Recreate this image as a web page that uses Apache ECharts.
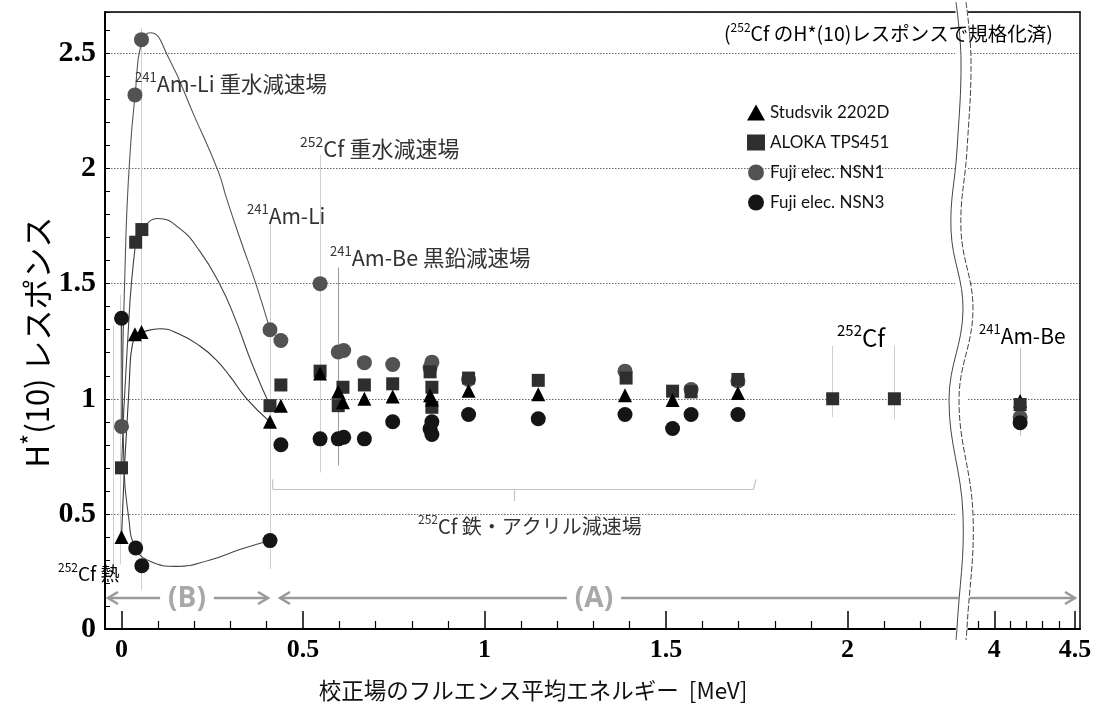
<!DOCTYPE html>
<html><head><meta charset="utf-8">
<script src="https://cdn.jsdelivr.net/npm/echarts@6/dist/echarts.min.js"></script>
<style>html,body{margin:0;padding:0;background:#fff}#c{width:1095px;height:708px}</style>
</head><body><div id="c"></div>
<script>
// Relative H*(10) response (normalised to the 252Cf field) vs. mean fluence energy [MeV]
const studsvik = [[0,0.40],[0.037,1.28],[0.055,1.29],[0.409,0.90],[0.439,0.97],[0.547,1.11],[0.597,1.03],[0.61,0.985],[0.669,1.00],[0.747,1.01],[0.85,1.015],[0.855,0.997],[0.956,1.035],[1.148,1.02],[1.387,1.015],[1.518,0.995],[1.698,1.025]];
const aloka = [[0,0.70],[0.039,1.68],[0.056,1.735],[0.409,0.97],[0.439,1.06],[0.547,1.12],[0.597,0.97],[0.61,1.05],[0.669,1.06],[0.747,1.065],[0.85,1.117],[0.855,1.05],[0.855,0.963],[0.956,1.09],[1.148,1.08],[1.39,1.09],[1.518,1.033],[1.569,1.03],[1.698,1.084],[1.959,1.0],[2.129,1.0]];
const nsn1 = [[0,0.88],[0.037,2.32],[0.055,2.56],[0.409,1.30],[0.439,1.253],[0.547,1.50],[0.597,1.203],[0.612,1.21],[0.669,1.157],[0.747,1.149],[0.85,1.135],[0.855,1.159],[0.956,1.084],[1.387,1.12],[1.569,1.04],[1.698,1.077]];
const nsn3 = [[0,1.35],[0.039,0.352],[0.056,0.275],[0.409,0.384],[0.439,0.80],[0.547,0.826],[0.597,0.826],[0.612,0.833],[0.669,0.826],[0.747,0.90],[0.85,0.87],[0.855,0.90],[0.855,0.845],[0.956,0.932],[1.148,0.913],[1.387,0.932],[1.518,0.871],[1.569,0.932],[1.698,0.932]];

// 241Am-Be field (right-hand segment of the broken axis)
const amBeStudsvik = [[4.16,0.99]];
const amBeAloka = [[4.16,0.975]];
const amBeNsn1 = [[4.16,0.92]];
const amBeNsn3 = [[4.16,0.896]];

// Hand-drawn trend curves through the low-energy (B) region
const fitNsn1 = [[0,0.88],[0.012,1.7],[0.025,2.1],[0.037,2.31],[0.055,2.55],[0.08,2.59],[0.13,2.48],[0.2,2.23],[0.266,1.99],[0.29,1.867],[0.33,1.68],[0.37,1.5],[0.409,1.30]];
const fitAloka = [[0,0.70],[0.015,1.2],[0.039,1.678],[0.056,1.733],[0.1,1.783],[0.16,1.74],[0.216,1.64],[0.27,1.5],[0.31,1.36],[0.36,1.15],[0.409,0.97]];
const fitStudsvik = [[0,0.40],[0.019,1.0],[0.037,1.28],[0.056,1.29],[0.106,1.304],[0.16,1.28],[0.216,1.229],[0.26,1.17],[0.30,1.095],[0.345,1.0],[0.409,0.90]];
const fitNsn3 = [[0,1.35],[0.006,0.75],[0.02,0.48],[0.039,0.352],[0.079,0.294],[0.152,0.272],[0.244,0.30],[0.326,0.345],[0.409,0.384]];

// Leader lines from field labels down to their points
const guidesLeft = [
  [[-0.023,1.32],[-0.023,0.25]], [[-0.004,1.45],[-0.004,0.28]],
  [[0.055,2.61],[0.055,0.17]], [[0.409,1.78],[0.409,0.26]],
  [[0.547,2.06],[0.547,0.68]], [[1.959,1.23],[1.959,0.92]], [[2.129,1.23],[2.129,0.91]]
];
const guidesDark = [[[0.597,1.57],[0.597,0.71]]];
const guidesRight = [[[4.16,1.22],[4.16,0.84]]];
// Bracket under the 252Cf iron/acrylic moderated fields
const bracket = [
  [[0.416,0.65],[0.417,0.607]], [[0.417,0.607],[1.741,0.607]],
  [[1.741,0.607],[1.748,0.65]], [[1.082,0.607],[1.082,0.556]]
];

// Tick positions
const xMajorA = [0,0.5,1,1.5,2];
const xMinorA = [0.1,0.2,0.3,0.4,0.6,0.7,0.8,0.9,1.1,1.2,1.3,1.4,1.6,1.7,1.8,1.9,2.1,2.2];
const xMajorB = [4,4.5];
const xMinorB = [3.9,4.1,4.2,4.3,4.4];

const jp = '"Noto Sans CJK JP", "Noto Sans", sans-serif';
const xLabelStyle = {fontFamily:'Liberation Serif', fontWeight:'bold', fontSize:26, color:'#000'};
const yLabelStyle = {fontFamily:'Liberation Serif', fontWeight:'bold', fontSize:30, color:'#000'};

const yLabelFmt = v => (Math.abs(v*2 - Math.round(v*2)) < 1e-6) ? String(+v.toFixed(1)) : '';

function xAxes(grid, min, max, major, minor) {
  return [
    {gridIndex:grid, type:'value', min, max, position:'bottom',
     axisLine:{show:true, onZero:false, lineStyle:{color:'#000', width:2}},
     axisTick:{show:true, inside:true, length:18, customValues:major, lineStyle:{color:'#000', width:1.5}},
     axisLabel:Object.assign({show:true, margin:8, customValues:major}, xLabelStyle),
     splitLine:{show:false}},
    {gridIndex:grid, type:'value', min, max, position:'bottom',
     axisLine:{show:false, onZero:false},
     axisTick:{show:true, inside:true, length:8, customValues:minor, lineStyle:{color:'#000', width:1.2}},
     axisLabel:{show:false}, splitLine:{show:false}},
    {gridIndex:grid, type:'value', min, max, position:'top',
     axisLine:{show:true, onZero:false, lineStyle:{color:'#000', width:1.5}},
     axisTick:{show:false}, axisLabel:{show:false}, splitLine:{show:false}}
  ];
}

const yMin = 0, yMax = 2.68;
const dotted = {show:true, lineStyle:{type:[1.5,1.5], color:'#666', width:1}};

function label(x, y, sup, txt, size, color) {
  const c = color || '#333';
  const r = {
    s:{fontSize:Math.round(size*0.62), lineHeight:Math.round(size*0.7), verticalAlign:'top', fontFamily:jp, fill:c},
    n:{fontSize:size, lineHeight:size + 6, fontFamily:jp, fill:c}
  };
  return {type:'text', x, y, z:100,
    style:{text:(sup ? '{s|' + sup + '}' : '') + '{n|' + txt + '}', rich:r, align:'left', verticalAlign:'middle'}};
}

// Axis break: two wavy lines with white gap
const breakMid = [[961,2],[966,60],[962,150],[956,230],[968,310],[954,400],[968,515],[962,628],[961,640]];
const breakL = breakMid.map(p => [p[0]-5, p[1]]);
const breakR = breakMid.map(p => [p[0]+5, p[1]]);

function arrowHead(x, y, dir) {
  return {type:'polyline', z:90, shape:{points:[[x - dir*10, y-6],[x, y],[x - dir*10, y+6]]},
    style:{stroke:'#9a9a9a', lineWidth:2.5, fill:null}};
}

const solid = c => ({color:c, opacity:1});

const option = {
  animation:false,
  backgroundColor:'#fff',
  grid:[
    {left:105, right:140, top:12, bottom:79},
    {left:968, right:15, top:12, bottom:79}
  ],
  xAxis:[].concat(xAxes(0, -0.0455, 2.296, xMajorA, xMinorA), xAxes(1, 3.837, 4.531, xMajorB, xMinorB)),
  yAxis:[
    {gridIndex:0, type:'value', min:yMin, max:yMax, interval:0.5,
     axisLine:{show:true, onZero:false, lineStyle:{color:'#000', width:2}},
     axisTick:{show:true, inside:true, length:5, lineStyle:{color:'#000'}},
     minorTick:{show:true, splitNumber:5, length:5, lineStyle:{color:'#000'}},
     axisLabel:Object.assign({margin:9, formatter:yLabelFmt}, yLabelStyle),
     splitLine:dotted},
    {gridIndex:1, type:'value', min:yMin, max:yMax, interval:0.5,
     axisLine:{show:false, onZero:false}, axisTick:{show:false}, axisLabel:{show:false}, splitLine:dotted},
    {gridIndex:1, type:'value', min:yMin, max:yMax, interval:0.5, position:'right',
     axisLine:{show:true, onZero:false, lineStyle:{color:'#000', width:1.5}}, axisTick:{show:false}, axisLabel:{show:false}, splitLine:{show:false}}
  ],
  legend:{
    orient:'vertical', left:742, top:99, itemWidth:18, itemHeight:16, itemGap:13,
    textStyle:{fontSize:17, fontFamily:'Lato, sans-serif', color:'#111'},
    data:['Studsvik 2202D','ALOKA TPS451','Fuji elec. NSN1','Fuji elec. NSN3']
  },
  series:[
    {type:'lines', coordinateSystem:'cartesian2d', xAxisIndex:0, yAxisIndex:0, silent:true, z:1,
     lineStyle:{color:'#cfcfcf', width:1, opacity:1}, data:guidesLeft.map(c => ({coords:c}))},
    {type:'lines', coordinateSystem:'cartesian2d', xAxisIndex:0, yAxisIndex:0, silent:true, z:1,
     lineStyle:{color:'#9a9a9a', width:1, opacity:1}, data:guidesDark.map(c => ({coords:c}))},
    {type:'lines', coordinateSystem:'cartesian2d', xAxisIndex:0, yAxisIndex:0, silent:true, z:1,
     lineStyle:{color:'#c4c4c4', width:1.2, opacity:1}, data:bracket.map(c => ({coords:c}))},
    {type:'lines', coordinateSystem:'cartesian2d', xAxisIndex:3, yAxisIndex:1, silent:true, z:1,
     lineStyle:{color:'#bdbdbd', width:1, opacity:1}, data:guidesRight.map(c => ({coords:c}))},

    {type:'line', name:'fit1', xAxisIndex:0, yAxisIndex:0, data:fitNsn1, smooth:true, showSymbol:false, symbol:'none', z:2, silent:true, lineStyle:{color:'#555', width:1.1}},
    {type:'line', name:'fit2', xAxisIndex:0, yAxisIndex:0, data:fitAloka, smooth:true, showSymbol:false, symbol:'none', z:2, silent:true, lineStyle:{color:'#444', width:1.1}},
    {type:'line', name:'fit3', xAxisIndex:0, yAxisIndex:0, data:fitStudsvik, smooth:true, showSymbol:false, symbol:'none', z:2, silent:true, lineStyle:{color:'#333', width:1.1}},
    {type:'line', name:'fit4', xAxisIndex:0, yAxisIndex:0, data:fitNsn3, smooth:true, showSymbol:false, symbol:'none', z:2, silent:true, lineStyle:{color:'#444', width:1.1}},

    {type:'scatter', name:'Fuji elec. NSN1', xAxisIndex:0, yAxisIndex:0, data:nsn1, symbol:'circle', symbolSize:15, itemStyle:solid('#525252'), z:3},
    {type:'scatter', name:'Fuji elec. NSN3', xAxisIndex:0, yAxisIndex:0, data:nsn3, symbol:'circle', symbolSize:15, itemStyle:solid('#151515'), z:3},
    {type:'scatter', name:'ALOKA TPS451', xAxisIndex:0, yAxisIndex:0, data:aloka, symbol:'rect', symbolSize:13, itemStyle:solid('#2e2e2e'), z:4},
    {type:'scatter', name:'Studsvik 2202D', xAxisIndex:0, yAxisIndex:0, data:studsvik, symbol:'triangle', symbolSize:14, itemStyle:solid('#000'), z:5},

    {type:'scatter', name:'Fuji elec. NSN1', xAxisIndex:3, yAxisIndex:1, data:amBeNsn1, symbol:'circle', symbolSize:15, itemStyle:solid('#525252'), z:3},
    {type:'scatter', name:'Fuji elec. NSN3', xAxisIndex:3, yAxisIndex:1, data:amBeNsn3, symbol:'circle', symbolSize:15, itemStyle:solid('#151515'), z:3},
    {type:'scatter', name:'Studsvik 2202D', xAxisIndex:3, yAxisIndex:1, data:amBeStudsvik, symbol:'triangle', symbolSize:14, itemStyle:solid('#000'), z:4},
    {type:'scatter', name:'ALOKA TPS451', xAxisIndex:3, yAxisIndex:1, data:amBeAloka, symbol:'rect', symbolSize:13, itemStyle:solid('#2e2e2e'), z:5}
  ],
  graphic:[
    // axis break
    {type:'polyline', z:95, shape:{points:breakMid, smooth:0.4}, style:{stroke:'#fff', lineWidth:11, fill:null}},
    {type:'polyline', z:96, shape:{points:breakL, smooth:0.4}, style:{stroke:'#444', lineWidth:1, fill:null}},
    {type:'polyline', z:96, shape:{points:breakR, smooth:0.4}, style:{stroke:'#444', lineWidth:1, fill:null, lineDash:[6,2]}},

    // range arrows (B) and (A)
    {type:'line', z:90, shape:{x1:108, y1:598, x2:268, y2:598}, style:{stroke:'#9a9a9a', lineWidth:2.5}},
    arrowHead(108, 598, -1), arrowHead(268, 598, 1),
    {type:'line', z:90, shape:{x1:280, y1:598, x2:1075, y2:598}, style:{stroke:'#9a9a9a', lineWidth:2.5}},
    arrowHead(280, 598, -1), arrowHead(1075, 598, 1),
    {type:'text', z:98, x:187, y:599, style:{text:'(B)', fontSize:28, fontWeight:'bold', fontFamily:'"Open Sans", sans-serif', fill:'#a8a8a8', align:'center', verticalAlign:'middle', backgroundColor:'#fff', padding:[0,8]}},
    {type:'text', z:98, x:594, y:599, style:{text:'(A)', fontSize:28, fontWeight:'bold', fontFamily:'"Open Sans", sans-serif', fill:'#a8a8a8', align:'center', verticalAlign:'middle', backgroundColor:'#fff', padding:[0,8]}},

    // field labels
    label(135, 84, '241', 'Am-Li 重水減速場', 21.5),
    label(300, 149, '252', 'Cf 重水減速場', 22),
    label(247, 216, '241', 'Am-Li', 21),
    label(330, 258, '241', 'Am-Be 黒鉛減速場', 21.5),
    label(837, 338, '252', 'Cf', 24, '#000'),
    label(979, 336, '241', 'Am-Be', 21, '#000'),
    label(418, 526, '252', 'Cf 鉄・アクリル減速場', 20),
    label(58, 574, '252', 'Cf 熱', 19, '#000'),
    {type:'text', z:100, x:724, y:34, style:{text:'({s|252}{n|Cf のH*(10)レスポンスで規格化済)}', rich:{
      s:{fontSize:12, lineHeight:13, verticalAlign:'top', fontFamily:jp, fill:'#000'},
      n:{fontSize:19.5, lineHeight:25, fontFamily:jp, fill:'#000'}},
      fontSize:19.5, fontFamily:jp, fill:'#000', align:'left', verticalAlign:'middle'}},

    // axis titles
    {type:'text', z:100, x:37, y:342, rotation:Math.PI/2, style:{text:'{n|H}{s|*}{n|(10) レスポンス}', rich:{
      n:{fontSize:31, lineHeight:38, fontFamily:jp, fill:'#000'},
      s:{fontSize:24, lineHeight:24, verticalAlign:'top', fontFamily:jp, fill:'#000'}},
      align:'center', verticalAlign:'middle'}},
    {type:'text', z:100, x:533, y:690, style:{text:'校正場のフルエンス平均エネルギー  [MeV]', fontSize:22.5, fontFamily:jp, fill:'#111', align:'center', verticalAlign:'middle'}}
  ]
};

const chart = echarts.init(document.getElementById('c'));
chart.setOption(option);
</script>
</body></html>
